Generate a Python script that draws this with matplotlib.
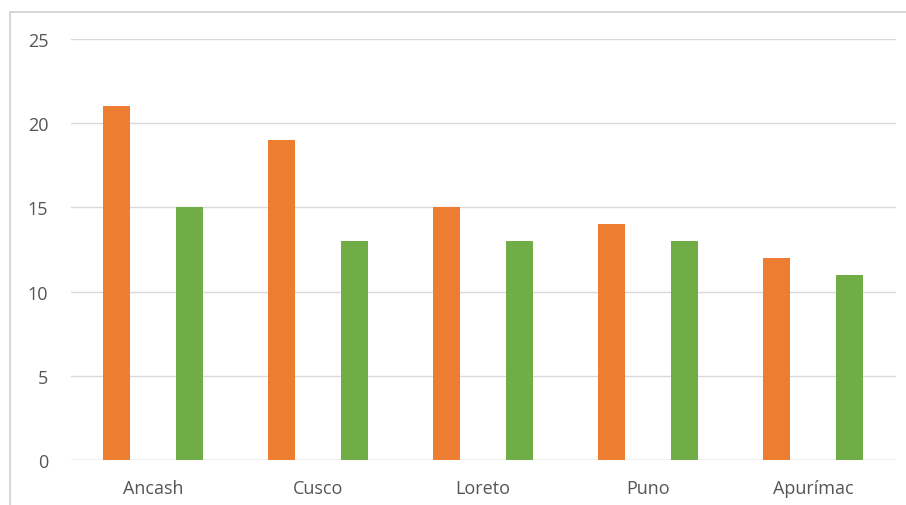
import matplotlib.pyplot as plt
import matplotlib.patches as mpatches
import numpy as np

# values
regions = ["Ancash", "Cusco", "Loreto", "Puno", "Apurímac"]
serie_naranja = [21, 19, 15, 14, 12]
serie_verde = [15, 13, 13, 13, 11]
y_ticks = [0, 5, 10, 15, 20, 25]

ORANGE = "#ED7D31"
GREEN = "#70AD47"
GRID = "#D9D9D9"
TEXT = "#555555"

plt.rcParams["font.family"] = ["Open Sans", "DejaVu Sans"]

fig = plt.figure(figsize=(9.06, 5.06), dpi=100)
W, H = 906, 506

# light frame around the chart area (open on the right and bottom)
frame = mpatches.Rectangle((10 / W, -0.05), 1.05, (H - 13) / H + 0.05,
                           transform=fig.transFigure, fill=False,
                           edgecolor="#D0D0D0", linewidth=1.2)
fig.patches.append(frame)

ax = fig.add_axes([70.5 / W, 45 / H, 825 / W, 421 / H])

x = np.arange(len(regions))
offset = 0.221
width = 0.165
ax.bar(x - offset, serie_naranja, width, color=ORANGE, zorder=3)
ax.bar(x + offset, serie_verde, width, color=GREEN, zorder=3)

ax.set_xlim(-0.5, len(regions) - 0.5)
ax.set_ylim(0, 25)
ax.set_yticks(y_ticks)
ax.set_xticks(x)
ax.set_xticklabels(regions)

ax.yaxis.grid(True, color=GRID, linewidth=1.0, zorder=0)
ax.set_axisbelow(True)
for s in ax.spines.values():
    s.set_visible(False)
ax.axhline(0, color=GRID, linewidth=1.0, zorder=1)

ax.tick_params(axis="both", length=0, labelsize=13, colors=TEXT)
ax.tick_params(axis="x", pad=14)
ax.tick_params(axis="y", pad=16)

fig.savefig("out.png", dpi=100)
